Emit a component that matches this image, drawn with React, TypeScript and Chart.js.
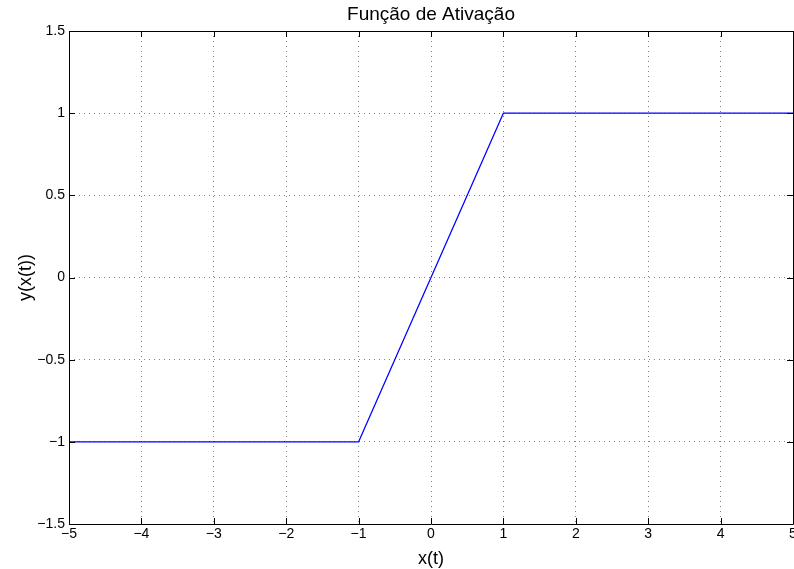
import React, { useEffect, useRef } from "react";
import { Chart, registerables } from "chart.js";

Chart.register(...registerables);

// Saturating linear activation: breakpoints of the piecewise curve
const xValues = [-5, -1, 1, 5];
const yValues = [-1, -1, 1, 1];

const xRange = [-5, 5];
const yRange = [-1.5, 1.5];
const xStep = 1;
const yStep = 0.5;

const titleText = "Função de Ativação";
const xLabel = "x(t)";
const yLabel = "y(x(t))";

const FONT = "'Liberation Sans', Arial, Helvetica, sans-serif";

const fmt = (v: number) => String(v).replace("-", "\u2212");

// Box around the plot area with short inward ticks on all four sides,
// plus the title and axis labels placed relative to the plot area
const framePlugin = {
  id: "frame",
  afterDraw(chart: any) {
    const { ctx, chartArea } = chart;
    const { left, right, top, bottom } = chartArea;
    const xs = chart.scales.x;
    const ys = chart.scales.y;
    const len = 6;
    ctx.save();
    ctx.strokeStyle = "#000";
    ctx.lineWidth = 1;
    ctx.setLineDash([]);
    ctx.beginPath();
    ctx.rect(Math.round(left) + 0.5, Math.round(top) + 0.5, Math.round(right - left), Math.round(bottom - top));
    ctx.stroke();
    ctx.beginPath();
    xs.ticks.forEach((t: any) => {
      const px = Math.round(xs.getPixelForValue(t.value)) + 0.5;
      ctx.moveTo(px, bottom);
      ctx.lineTo(px, bottom - len);
      ctx.moveTo(px, top);
      ctx.lineTo(px, top + len);
    });
    ys.ticks.forEach((t: any) => {
      const py = Math.round(ys.getPixelForValue(t.value)) + 0.5;
      ctx.moveTo(left, py);
      ctx.lineTo(left + len, py);
      ctx.moveTo(right, py);
      ctx.lineTo(right - len, py);
    });
    ctx.stroke();

    const cx = (left + right) / 2;
    const cy = (top + bottom) / 2;
    ctx.fillStyle = "#000";
    ctx.textAlign = "center";

    ctx.font = `19px ${FONT}`;
    ctx.textBaseline = "alphabetic";
    ctx.fillText(titleText, cx, 20);

    ctx.font = `18px ${FONT}`;
    ctx.textBaseline = "middle";
    ctx.fillText(xLabel, cx, 559);

    ctx.translate(26, cy);
    ctx.rotate(-Math.PI / 2);
    ctx.fillText(yLabel, 0, 0);
    ctx.restore();
  },
};

export default function App() {
  const canvasRef = useRef<HTMLCanvasElement | null>(null);

  useEffect(() => {
    const canvas = canvasRef.current;
    if (!canvas) return;
    const chart = new Chart(canvas, {
      type: "scatter",
      data: {
        datasets: [
          {
            data: xValues.map((x, i) => ({ x, y: yValues[i] })),
            showLine: true,
            borderColor: "#0000ff",
            backgroundColor: "#0000ff",
            borderWidth: 1.2,
            pointRadius: 0,
            tension: 0,
          },
        ],
      },
      options: {
        animation: false,
        responsive: false,
        layout: { padding: { left: 0, right: 1, top: 31, bottom: 0 } },
        plugins: {
          legend: { display: false },
          tooltip: { enabled: false },
          title: { display: false },
        },
        scales: {
          x: {
            type: "linear",
            min: xRange[0],
            max: xRange[1],
            afterFit(scale: any) {
              scale.height = 45;
              scale.paddingLeft = 0;
              scale.paddingRight = 0;
            },
            ticks: {
              stepSize: xStep,
              color: "#000",
              font: { family: FONT, size: 14 },
              padding: 2,
              maxRotation: 0,
              autoSkip: false,
              callback: (v: any) => fmt(Number(v)),
            },
            grid: {
              color: "rgba(0,0,0,0.5)",
              drawTicks: false,
            },
            border: { display: false, dash: [1, 4] },
          },
          y: {
            type: "linear",
            min: yRange[0],
            max: yRange[1],
            afterFit(scale: any) {
              scale.width = 69;
              scale.paddingTop = 0;
              scale.paddingBottom = 0;
            },
            ticks: {
              stepSize: yStep,
              color: "#000",
              font: { family: FONT, size: 14 },
              padding: 4,
              autoSkip: false,
              callback: (v: any) => fmt(Number(v)),
            },
            grid: {
              color: "rgba(0,0,0,0.5)",
              drawTicks: false,
            },
            border: { display: false, dash: [1, 4] },
          },
        },
      },
      plugins: [framePlugin],
    });
    return () => chart.destroy();
  }, []);

  return (
    <div style={{ position: "fixed", left: 0, top: 0, width: 794, height: 569, background: "#fff" }}>
      <canvas ref={canvasRef} width={794} height={569} />
    </div>
  );
}
